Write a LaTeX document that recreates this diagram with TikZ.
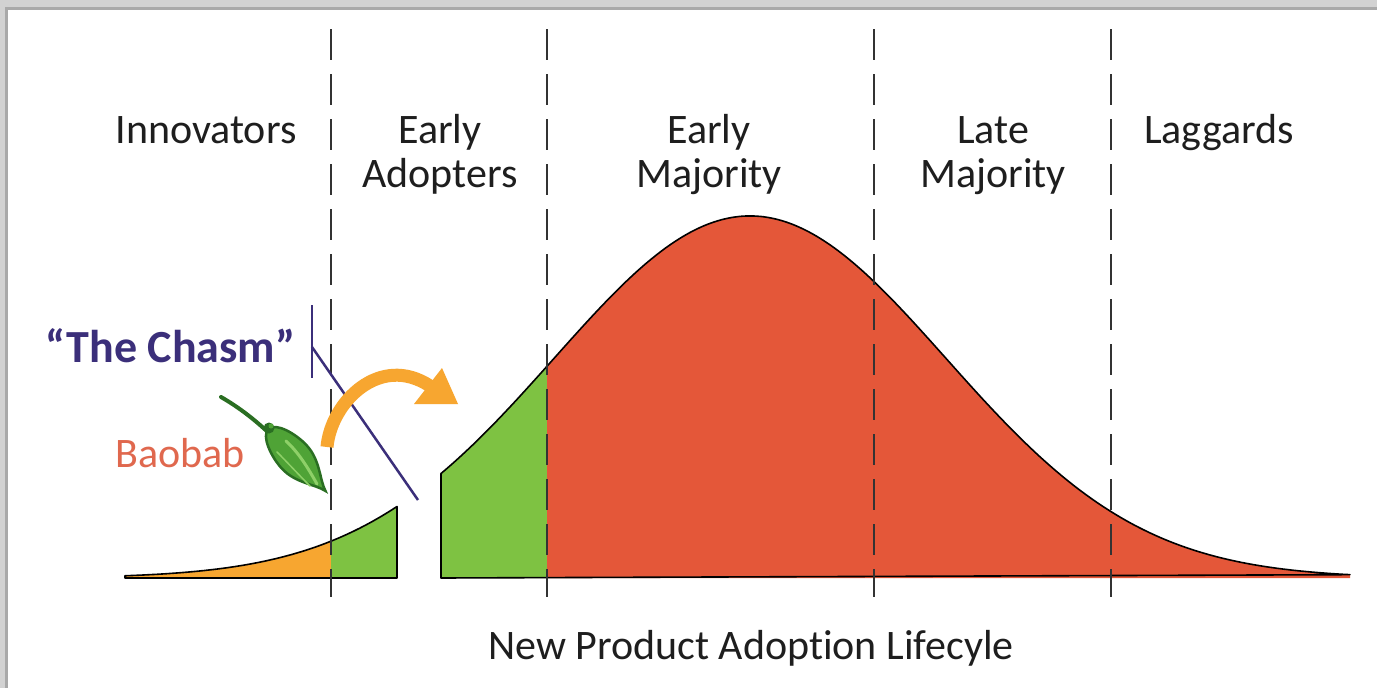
\documentclass[tikz,border=0pt]{standalone}
\usepackage{fontspec}
\setmainfont{Carlito}[Ligatures={NoCommon}]
\definecolor{txt}{HTML}{1E1E1E}
\definecolor{orangeF}{HTML}{F7A630}
\definecolor{greenF}{HTML}{7EC242}
\definecolor{redF}{HTML}{E45739}
\definecolor{chasmC}{HTML}{3B2F7A}
\definecolor{baobabC}{HTML}{E0684E}
\definecolor{podDark}{HTML}{2A6E22}
\definecolor{podFill}{HTML}{4FA336}
\definecolor{podLight}{HTML}{8ED068}
\definecolor{frameA}{HTML}{D2D2D2}
\definecolor{frameB}{HTML}{A9A9A9}
\begin{document}
\begin{tikzpicture}[x=1pt,y=-1pt,
  declare function={g(\x)=578-362*exp(-(((\x-750)/196)^2)/2);},
  lab/.style={font=\fontsize{42}{48}\selectfont, text=txt, inner sep=0pt, anchor=base},
  dashline/.style={draw=black!80, line width=2pt, dash pattern=on 31pt off 14pt},
  curveline/.style={draw=black, line width=1.6pt, line join=round},
  chasmline/.style={draw=chasmC, line width=2.5pt}]
\useasboundingbox (0,0) rectangle (1377,688);
\fill[white] (0,0) rectangle (1377,688);
% frame
\fill[frameA] (0,0) rectangle (1377,10);
\fill[frameA] (0,0) rectangle (8,688);
\fill[frameB] (6,7) rectangle (1377,10);
\fill[frameB] (5,7) rectangle (8,688);
% fills
\fill[orangeF] (125,578) -- plot[domain=125:331,samples=60] (\x,{g(\x)}) -- (331,578) -- cycle;
\fill[greenF] (331,578) -- plot[domain=331:397,samples=30] (\x,{g(\x)}) -- (397,578) -- cycle;
\fill[greenF] (441,578) -- plot[domain=441:547,samples=40] (\x,{g(\x)}) -- (547,578) -- cycle;
\fill[redF] (547,578) -- plot[domain=547:1350,samples=200] (\x,{g(\x)}) -- (1350,578) -- cycle;
% outlines
\draw[curveline] (125,578) -- plot[domain=125:397,samples=90] (\x,{g(\x)}) -- (397,578) -- cycle;
\draw[curveline] (441,578) -- plot[domain=441:1350,samples=260] (\x,{g(\x)}) -- cycle;
% dashed lines
\foreach \xx in {331,547,874,1111} \draw[dashline] (\xx,29) -- (\xx,597);
% chasm lines
\draw[chasmline] (312,305) -- (312,378);
\draw[chasmline] (312,347) -- (418,500);
% orange arrow
\draw[orangeF, line width=13pt] (327,447) .. controls (331,402) and (380,353) .. (430,386);
\fill[orangeF] (414,404) -- (442,368) -- (458,404) -- cycle;
% baobab pod
\draw[podDark, line width=4pt, line cap=round] (221,397) .. controls (240,408) and (255,420) .. (270,434);
\draw[podDark, fill=podFill, line width=2.5pt]
  (268.5,429) .. controls (275.9,422.2) and (296.0,433.7) .. (306.8,445.5)
  .. controls (320.4,460.3) and (319.6,480.1) .. (325.5,491)
  .. controls (315.2,484.1) and (295.4,483.3) .. (281.8,468.5)
  .. controls (271.0,456.7) and (261.1,435.8) .. (268.5,429) -- cycle;
\draw[podLight, line width=3pt, line cap=round] (286,441) .. controls (299,453) and (308,468) .. (317,484);
\draw[podLight, line width=1.5pt, line cap=round] (277,452) .. controls (287,462) and (298,474) .. (310,486);
\fill[podDark] (269,428) circle (5.5);
\fill[podFill] (271,426) circle (2.5);
% labels
\node[lab] (inn) at (206,143) {Innovators};
\node[lab] (ea1) at (440,143) {Early};
\node[lab] (ea2) at (440,187) {Adopters};
\node[lab] (em1) at (709,143) {Early};
\node[lab] (em2) at (709,187) {Majority};
\node[lab] (lm1) at (993,143) {Late};
\node[lab] (lm2) at (993,187) {Majority};
\node[lab] (lag) at (1219,143) {Laggards};
\node[lab, anchor=base west, text=chasmC, font=\fontsize{46}{52}\selectfont\bfseries] (chasm) at (45,362) {“The Chasm”};
\node[lab, anchor=base west, text=baobabC] (baobab) at (115,467) {Baobab};
\node[lab] (title) at (751,659) {New Product Adoption Lifecyle};
\end{tikzpicture}
\end{document}
